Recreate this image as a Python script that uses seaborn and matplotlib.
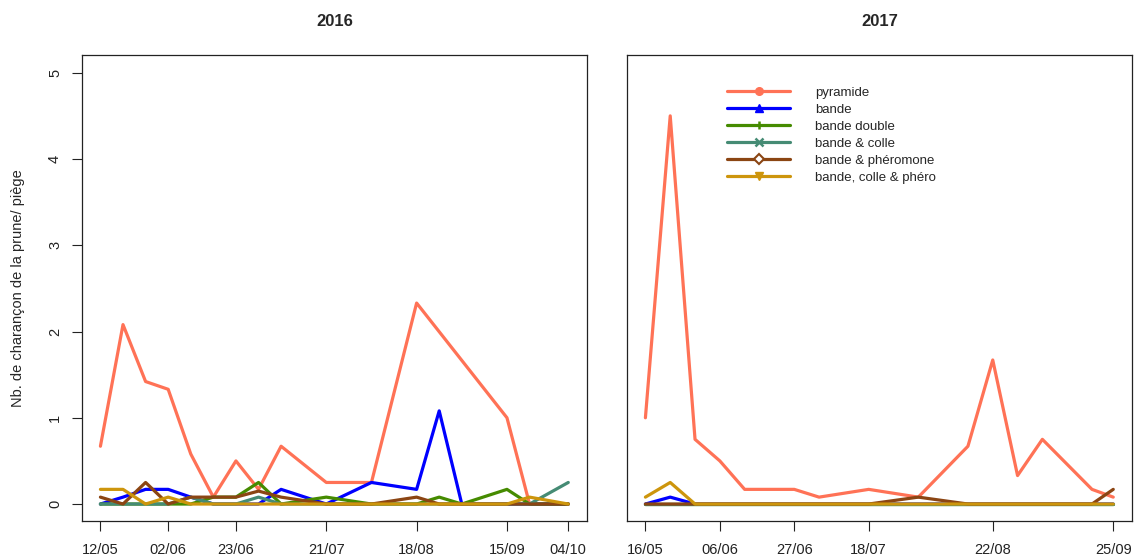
import numpy as np
import pandas as pd
import matplotlib
matplotlib.use("Agg")
import matplotlib.pyplot as plt
from matplotlib.lines import Line2D
import seaborn as sns

# ---- data -------------------------------------------------------------
traps = ["pyramide", "bande", "bande double", "bande & colle",
         "bande & phéromone", "bande, colle & phéro"]
colors = ["#FF7256", "#0000FF", "#458B00", "#458B74", "#8B4513", "#CD950C"]
markers = ["o", "^", "|", "x", "D", "v"]

dates_2016 = ["2016-05-12", "2016-05-19", "2016-05-26", "2016-06-02", "2016-06-09",
              "2016-06-16", "2016-06-23", "2016-06-30", "2016-07-07", "2016-07-21",
              "2016-08-04", "2016-08-18", "2016-08-25", "2016-09-01", "2016-09-15",
              "2016-09-22", "2016-10-04"]
nan = np.nan
pyramide_2016 = [0.67, 2.08, 1.42, 1.33, 0.58, 0.08, 0.5, 0.17, 0.67, 0.25,
                 0.25, 2.33, nan, nan, 1.0, 0, 0]
bande_2016 = [0, 0.08, 0.17, 0.17, 0.08, 0, 0, 0, 0.17, 0, 0.25, 0.17, 1.08, 0, 0, 0, 0]
double_2016 = [0, 0, 0, 0, 0, 0.08, 0.08, 0.25, 0, 0.08, 0, 0, 0.08, 0, 0.17, 0, 0]
colle_2016 = [0, 0, 0, 0, 0.08, 0, 0, 0.08, 0, 0, 0, 0, 0, 0, 0, 0, 0.25]
phero_2016 = [0.08, 0, 0.25, 0, 0.08, 0.08, 0.08, 0.15, 0.08, 0, 0, 0.08, 0, 0, 0, 0, 0]
cpphero_2016 = [0.17, 0.17, 0, 0.08, 0, 0, 0, 0, 0, 0, 0, 0, 0, 0, 0, 0.08, 0]

dates_2017 = ["2017-05-16", "2017-05-23", "2017-05-30", "2017-06-06", "2017-06-13",
              "2017-06-27", "2017-07-04", "2017-07-18", "2017-08-01", "2017-08-15",
              "2017-08-22", "2017-08-29", "2017-09-05", "2017-09-19", "2017-09-25"]
pyramide_2017 = [1.0, 4.5, 0.75, 0.5, 0.17, 0.17, 0.08, 0.17, 0.08, 0.67,
                 1.67, 0.33, 0.75, 0.17, 0.08]
bande_2017 = [0, 0.08, 0, 0, 0, 0, 0, 0, 0, 0, 0, 0, 0, 0, 0]
double_2017 = [0] * 15
colle_2017 = [0] * 15
phero_2017 = [0, 0, 0, 0, 0, 0, 0, 0, 0.08, 0, 0, 0, 0, 0, 0.17]
cpphero_2017 = [0.08, 0.25, 0, 0, 0, 0, 0, 0, 0, 0, 0, 0, 0, 0, 0]

ticks_2016 = ["12/05", "02/06", "23/06", "21/07", "18/08", "15/09", "04/10"]
ticks_2017 = ["16/05", "06/06", "27/06", "18/07", "22/08", "25/09"]
y_ticks = [0, 1, 2, 3, 4, 5]


def long_frame(dates, series):
    parts = []
    for name, vals in zip(traps, series):
        parts.append(pd.DataFrame({"date": pd.to_datetime(dates),
                                   "piege": name, "n": vals}))
    return pd.concat(parts, ignore_index=True).dropna()


df16 = long_frame(dates_2016, [pyramide_2016, bande_2016, double_2016,
                               colle_2016, phero_2016, cpphero_2016])
df17 = long_frame(dates_2017, [pyramide_2017, bande_2017, double_2017,
                               colle_2017, phero_2017, cpphero_2017])

# ---- style -------------------------------------------------------------
sns.set_theme(style="white")
plt.rcParams["font.family"] = ["Liberation Sans", "DejaVu Sans"]

fig = plt.figure(figsize=(11.38, 5.58), dpi=100)
ax1 = fig.add_axes([0.0718, 0.0658, 0.4440, 0.8348])
ax2 = fig.add_axes([0.5507, 0.0658, 0.4440, 0.8348])

palette = dict(zip(traps, colors))


def draw(ax, df, year, tick_labels, show_y):
    sns.lineplot(data=df, x="date", y="n", hue="piege", hue_order=traps,
                 palette=palette, ax=ax, legend=False, sort=True,
                 estimator=None, linewidth=2.3)
    d0, d1 = df["date"].min(), df["date"].max()
    span = d1 - d0
    ax.set_xlim(d0 - 0.04 * span, d1 + 0.04 * span)
    ax.set_ylim(-0.2, 5.2)
    tick_dates = pd.to_datetime([f"{year}-{t[3:5]}-{t[0:2]}" for t in tick_labels])
    ax.set_xticks(tick_dates)
    ax.set_xticklabels(tick_labels, fontsize=10.5)
    if show_y:
        ax.set_yticks(y_ticks)
        ax.set_yticklabels([str(v) for v in y_ticks], rotation=90,
                           va="center", fontsize=10.5)
        ax.tick_params(axis="y", left=True, length=7.2, width=0.8,
                       pad=7, colors="#222222")
        ax.set_ylabel("Nb. de charançon de la prune/ piège", fontsize=10.5)
        ax.yaxis.set_label_coords(-0.112, 0.5)
    else:
        ax.set_yticks([])
        ax.set_ylabel("")
    ax.tick_params(axis="x", bottom=True, length=7.2, width=0.8, pad=8.5,
                   colors="#222222")
    ax.set_xlabel("")
    for s in ax.spines.values():
        s.set_visible(True)
        s.set_color("#222222")
        s.set_linewidth(0.9)
    ax.set_title(str(year), fontsize=12, fontweight="bold", pad=21)


draw(ax1, df16, 2016, ticks_2016, True)
draw(ax2, df17, 2017, ticks_2017, False)

handles = []
for name, c, m in zip(traps, colors, markers):
    if m == "D":
        h = Line2D([], [], color=c, lw=2.3, marker=m, markersize=5,
                   markerfacecolor="white", markeredgecolor=c, markeredgewidth=1.5)
    elif m in ("|", "x"):
        h = Line2D([], [], color=c, lw=2.3, marker=m, markersize=6,
                   markeredgewidth=1.8)
    else:
        h = Line2D([], [], color=c, lw=2.3, marker=m, markersize=5.5)
    handles.append(h)

ax2.legend(handles, traps, loc="upper left", bbox_to_anchor=(0.188, 0.945),
           frameon=False, fontsize=9.5, handlelength=4.8, handletextpad=1.9,
           labelspacing=0.36, borderaxespad=0)

fig.savefig("out.png", dpi=100)
